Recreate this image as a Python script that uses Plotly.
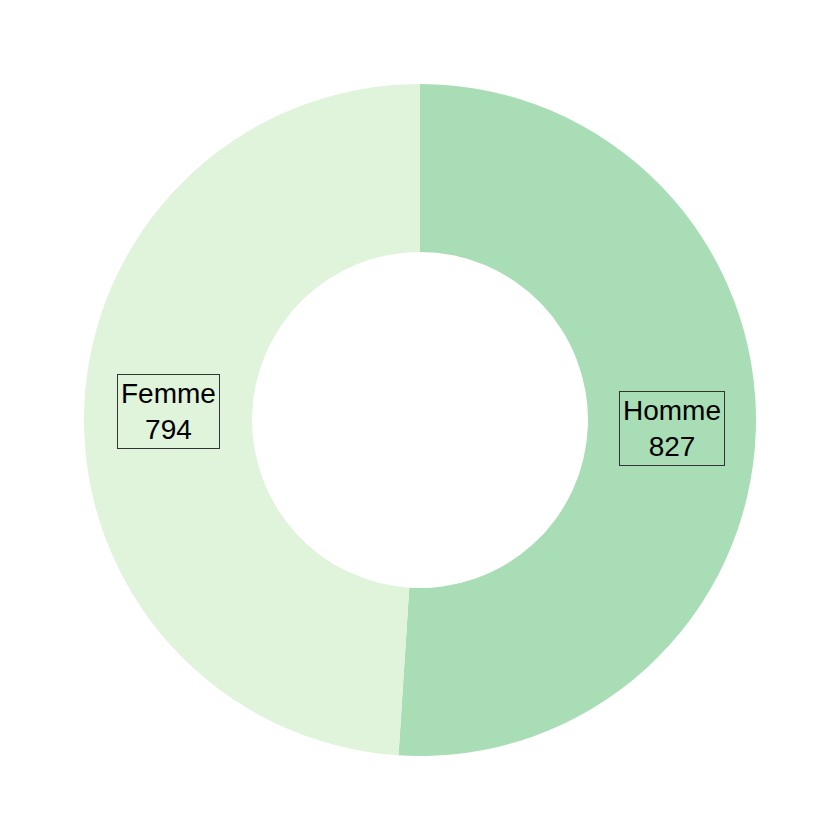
import math
import plotly.graph_objects as go

categories = ["Homme", "Femme"]
values = [827, 794]
colors = ["#A8DDB5", "#E0F3DB"]

fig = go.Figure()
fig.add_trace(go.Pie(
    labels=categories, values=values, hole=0.5, sort=False,
    direction="clockwise", rotation=0,
    marker=dict(colors=colors, line=dict(width=0)),
    textinfo="none", hoverinfo="label+value", showlegend=False,
    domain=dict(x=[0.1, 0.9], y=[0.1, 0.9]),
))

total = sum(values)
cum = 0
annotations = []
r_mid = 0.3  # (inner+outer)/2 in paper units: (0.2 + 0.4)/2
for cat, v, c in zip(categories, values, colors):
    theta = (cum + v / 2) / total * 2 * math.pi
    cum += v
    x = 0.5 + r_mid * math.sin(theta)
    y = 0.5 + r_mid * math.cos(theta)
    annotations.append(dict(
        x=x, y=y, xref="paper", yref="paper", showarrow=False,
        xanchor="center", yanchor="middle",
        text=f"{cat}<br>{v}", align="center",
        font=dict(family="Liberation Sans, Arial, sans-serif", size=28, color="black"),
        bordercolor="#333333", borderwidth=1, borderpad=3, bgcolor=c,
    ))

fig.update_layout(
    width=840, height=840, margin=dict(l=0, r=0, t=0, b=0),
    paper_bgcolor="white", plot_bgcolor="white",
    annotations=annotations,
)
fig.write_html("out.html")
